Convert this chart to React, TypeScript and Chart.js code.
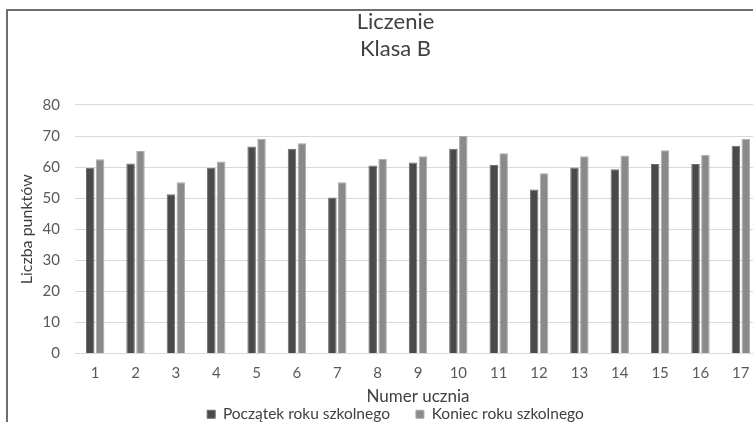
import React, { useEffect, useRef } from "react";
import { Chart, registerables } from "chart.js";

Chart.register(...registerables);

const categories = ["1", "2", "3", "4", "5", "6", "7", "8", "9", "10", "11", "12", "13", "14", "15", "16", "17"];
const startValues = [59.8, 61.2, 51.3, 59.8, 66.6, 65.9, 50.2, 60.5, 61.5, 65.9, 60.7, 52.8, 59.9, 59.3, 61.0, 61.0, 66.9];
const endValues = [62.5, 65.2, 55.1, 61.8, 69.1, 67.7, 55.1, 62.7, 63.5, 70.0, 64.5, 58.0, 63.5, 63.7, 65.4, 64.0, 69.1];
const seriesNames = ["Początek roku szkolnego", "Koniec roku szkolnego"];
const titleLines = ["Liczenie", "Klasa B"];
const xTitle = "Numer ucznia";
const yTitle = "Liczba punktów";
const yMin = 0;
const yMax = 80;
const yStep = 10;

const FONT = "Lato, 'Open Sans', 'Noto Sans', sans-serif";

export default function App() {
  const ref = useRef<HTMLCanvasElement | null>(null);

  useEffect(() => {
    if (!ref.current) return;
    const chart = new Chart(ref.current, {
      type: "bar",
      data: {
        labels: categories,
        datasets: [
          {
            label: seriesNames[0],
            data: startValues,
            backgroundColor: "#4a4a4a",
            borderColor: "#6e6e6e",
            borderWidth: 1,
            categoryPercentage: 0.49,
            barPercentage: 0.86,
          },
          {
            label: seriesNames[1],
            data: endValues,
            backgroundColor: "#8a8a8a",
            borderColor: "#ababab",
            borderWidth: 1,
            categoryPercentage: 0.49,
            barPercentage: 0.86,
          },
        ],
      },
      options: {
        responsive: false,
        animation: false,
        events: [],
        layout: { padding: { left: 22, right: 17, top: 0, bottom: 0 } },
        font: { family: FONT },
        plugins: {
          title: {
            display: true,
            text: titleLines,
            color: "#404040",
            font: { family: FONT, size: 22, weight: "normal", lineHeight: 1.227 },
            padding: { top: -3, bottom: 43 },
          },
          legend: {
            position: "bottom",
            labels: {
              boxWidth: 8,
              boxHeight: 8,
              padding: 26,
              color: "#404040",
              font: { family: FONT, size: 15.5 },
            },
          },
          tooltip: { enabled: false },
        },
        scales: {
          x: {
            grid: { display: false, drawTicks: false },
            border: { display: false },
            ticks: {
              color: "#595959",
              font: { family: FONT, size: 15 },
              padding: 11,
              maxRotation: 0,
              autoSkip: false,
            },
            title: {
              display: true,
              text: xTitle,
              color: "#404040",
              font: { family: FONT, size: 17 },
              padding: { top: 0, bottom: -26 },
            },
            afterFit: (s: any) => {
              s.height = 27;
            },
          },
          y: {
            min: yMin,
            max: yMax,
            grid: { color: "#d9d9d9", drawTicks: false },
            border: { display: false },
            ticks: {
              stepSize: yStep,
              color: "#595959",
              font: { family: FONT, size: 15 },
              padding: 15,
            },
            title: {
              display: true,
              text: yTitle,
              color: "#404040",
              font: { family: FONT, size: 16 },
              padding: { top: -13, bottom: 0 },
            },
            afterFit: (s: any) => {
              s.width = 45;
            },
          },
        },
      },
    });
    return () => chart.destroy();
  }, []);

  return (
    <div
      style={{
        position: "fixed",
        left: 0,
        top: 0,
        width: 753,
        height: 422,
        overflow: "hidden",
        background: "#ffffff",
      }}
    >
      <div
        style={{
          position: "absolute",
          left: 6,
          top: 9,
          width: 800,
          height: 500,
          borderLeft: "2px solid #6e6e6e",
          borderTop: "2px solid #6e6e6e",
        }}
      >
        <canvas
          ref={ref}
          width={770}
          height={421}
          style={{ position: "absolute", left: 0, top: 0, width: 770, height: 421 }}
        />
      </div>
    </div>
  );
}
